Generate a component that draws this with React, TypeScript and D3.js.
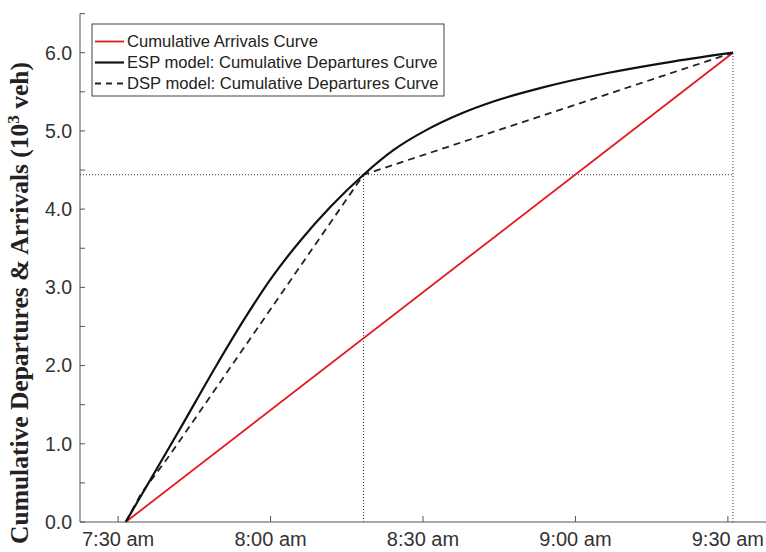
import React from "react";
import * as d3 from "d3";

// Time is measured in minutes after 7:30 am.
const timeTicks = [0, 30, 60, 90, 120];
const timeTickLabels = ["7:30 am", "8:00 am", "8:30 am", "9:00 am", "9:30 am"];
const valueTicks = [0, 0.5, 1, 1.5, 2, 2.5, 3, 3.5, 4, 4.5, 5, 5.5, 6, 6.5];
const valueTickLabels = ["0.0", "", "1.0", "", "2.0", "", "3.0", "", "4.0", "", "5.0", "", "6.0", ""];

// Cumulative arrivals (10^3 veh)
const arrivalTimes = [1.5, 121];
const arrivalValues = [0, 6.0];

// ESP model departures
const espTimes = [1.5, 12, 19.6, 24.8, 30.4, 35.9, 41.8, 48.3, 54.3, 60.9, 67.4, 74.0, 83.2, 96.3, 109.4, 121];
const espValues = [0, 1.17, 2.03, 2.59, 3.14, 3.6, 4.03, 4.44, 4.76, 5.02, 5.22, 5.38, 5.55, 5.74, 5.89, 6.0];

// DSP model departures
const dspTimes = [1.5, 4.5, 10, 48.3, 121];
const dspValues = [0, 0.36, 0.84, 4.44, 6.0];

// Switch point and end point guides
const switchTime = 48.3;
const switchValue = 4.44;
const endTime = 121;
const endValue = 6.0;

const legendLabels = [
  "Cumulative Arrivals Curve",
  "ESP model: Cumulative Departures Curve",
  "DSP model: Cumulative Departures Curve",
];

const W = 766;
const H = 552;
const left = 80;
const right = 766;
const top = 13.6;
const bottom = 522;

export default function App() {
  const x = d3.scaleLinear().domain([-7.5, 127.5]).range([left, right]);
  const y = d3.scaleLinear().domain([0, 6.5]).range([bottom, top]);

  const linear = d3
    .line<[number, number]>()
    .x((d) => x(d[0]))
    .y((d) => y(d[1]));
  const smooth = d3
    .line<[number, number]>()
    .x((d) => x(d[0]))
    .y((d) => y(d[1]))
    .curve(d3.curveMonotoneX);

  const arrivals = arrivalTimes.map((t, i) => [t, arrivalValues[i]] as [number, number]);
  const esp = espTimes.map((t, i) => [t, espValues[i]] as [number, number]);
  const dsp = dspTimes.map((t, i) => [t, dspValues[i]] as [number, number]);

  const axisColor = "#555";
  const labelColor = "#333";
  const tickFont = "Liberation Sans, Arial, sans-serif";
  const tickLen = 5;

  const red = "#e3191e";
  const legendRows = [
    { label: legendLabels[0], stroke: red, dash: undefined, width: 1.8 },
    { label: legendLabels[1], stroke: "#111", dash: undefined, width: 2.2 },
    { label: legendLabels[2], stroke: "#222", dash: "6,5", width: 1.8 },
  ];

  return (
    <svg
      width={W}
      height={H}
      style={{ position: "absolute", left: 0, top: 0, background: "#fff" }}
    >
      <rect width={W} height={H} fill="#fff" />

      {/* guide lines */}
      <g stroke="#333" strokeWidth={1} strokeDasharray="1,2" fill="none">
        <line x1={left} x2={x(endTime)} y1={y(switchValue)} y2={y(switchValue)} />
        <line x1={x(switchTime)} x2={x(switchTime)} y1={y(0)} y2={y(switchValue)} />
        <line x1={x(endTime)} x2={x(endTime)} y1={y(0)} y2={y(endValue)} />
      </g>

      {/* curves */}
      <path d={linear(arrivals) ?? ""} fill="none" stroke={red} strokeWidth={1.8} />
      <path d={linear(dsp) ?? ""} fill="none" stroke="#222" strokeWidth={1.8} strokeDasharray="7,5" />
      <path d={smooth(esp) ?? ""} fill="none" stroke="#111" strokeWidth={2.2} />

      {/* axes */}
      <line x1={left} x2={left} y1={top} y2={bottom} stroke={axisColor} strokeWidth={1} />
      <line x1={left} x2={right} y1={bottom} y2={bottom} stroke={axisColor} strokeWidth={1} />

      {valueTicks.map((v, i) => (
        <g key={"y" + i}>
          <line x1={left} x2={left + tickLen} y1={y(v)} y2={y(v)} stroke={axisColor} />
          {valueTickLabels[i] && (
            <text
              x={left - 8}
              y={y(v)}
              dy="0.35em"
              textAnchor="end"
              fontFamily={tickFont}
              fontSize={19.5}
              fill={labelColor}
            >
              {valueTickLabels[i]}
            </text>
          )}
        </g>
      ))}

      {timeTicks.map((t, i) => (
        <g key={"x" + i}>
          <line x1={x(t)} x2={x(t)} y1={bottom} y2={bottom - tickLen - 1} stroke={axisColor} />
          <text
            x={x(t)}
            y={bottom + 24}
            textAnchor="middle"
            fontFamily={tickFont}
            fontSize={20}
            fill={labelColor}
          >
            {timeTickLabels[i]}
          </text>
        </g>
      ))}

      {/* y axis title */}
      <text
        transform={`translate(28,${303}) rotate(-90)`}
        textAnchor="middle"
        fontFamily="Liberation Serif, Times New Roman, serif"
        fontWeight="bold"
        fontSize={25.5}
        fill="#222"
      >
        Cumulative Departures &amp; Arrivals (10
        <tspan baselineShift="super" fontSize={17}>3</tspan>
        <tspan> veh)</tspan>
      </text>

      {/* legend */}
      <g>
        <rect x={92} y={24} width={352} height={72} fill="#fff" stroke="#444" strokeWidth={1} />
        {legendRows.map((r, i) => {
          const cy = 41.5 + i * 21;
          return (
            <g key={"lg" + i}>
              <line
                x1={95}
                x2={124}
                y1={cy}
                y2={cy}
                stroke={r.stroke}
                strokeWidth={r.width}
                strokeDasharray={r.dash}
              />
              <text
                x={127}
                y={cy}
                dy="0.35em"
                fontFamily={tickFont}
                fontSize={16.6}
                fill="#222"
              >
                {r.label}
              </text>
            </g>
          );
        })}
      </g>
    </svg>
  );
}
